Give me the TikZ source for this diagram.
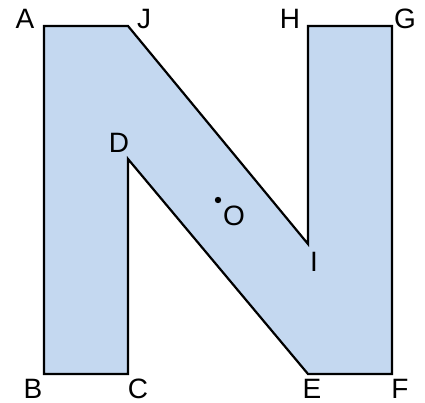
\documentclass[tikz,border=0pt]{standalone}
\usepackage{fontspec}
\setmainfont{Liberation Sans}
\definecolor{shapefill}{RGB}{196,216,240}
\begin{document}
\begin{tikzpicture}[x=1pt,y=-1pt,
  lbl/.style={font=\fontsize{28}{32}\selectfont, inner sep=0pt},
  edge/.style={line width=2.2pt, line join=miter}]
\useasboundingbox (0,0) rectangle (425,403);
\coordinate (A) at (44,26);
\coordinate (J) at (128,26);
\coordinate (H) at (308,26);
\coordinate (G) at (392,26);
\coordinate (I) at (308,244);
\coordinate (F) at (392,374);
\coordinate (E) at (308,374);
\coordinate (D) at (128,159);
\coordinate (C) at (128,374);
\coordinate (B) at (44,374);
\coordinate (O) at (218,200);
\filldraw[edge, fill=shapefill] (A) -- (J) -- (I) -- (H) -- (G) -- (F) -- (E) -- (D) -- (C) -- (B) -- cycle;
\fill (O) circle (3.2);
\node[lbl] (lA) at (25,19) {A};
\node[lbl] (lJ) at (144,19) {J};
\node[lbl] (lH) at (290,19) {H};
\node[lbl] (lG) at (405,19) {G};
\node[lbl] (lD) at (119,143) {D};
\node[lbl] (lO) at (234,216) {O};
\node[lbl] (lI) at (314,262) {I};
\node[lbl] (lB) at (33,389) {B};
\node[lbl] (lC) at (138,389) {C};
\node[lbl] (lE) at (312,389) {E};
\node[lbl] (lF) at (400,389) {F};
\end{tikzpicture}
\end{document}
